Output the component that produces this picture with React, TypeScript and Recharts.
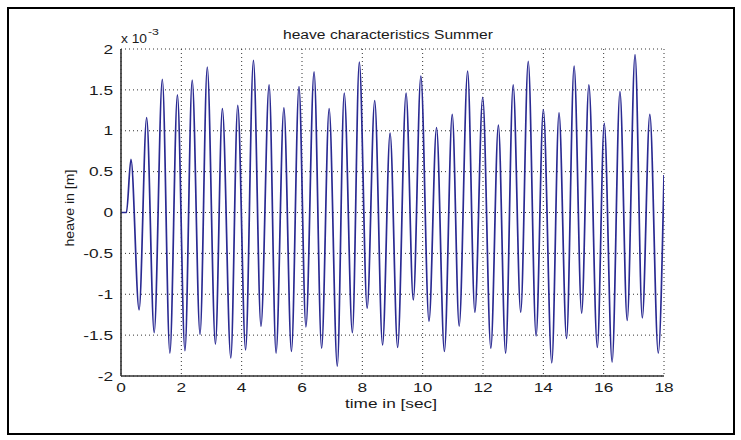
import React from 'react';
import { ComposedChart, Line, XAxis, YAxis, CartesianGrid } from 'recharts';

// time in seconds
const timeSec = [
  0, 0.18, 0.33, 0.6, 0.85, 1.1, 1.37, 1.62, 1.87, 2.12, 2.36, 2.62, 2.86, 3.13, 3.36, 3.64,
  3.87, 4.13, 4.39, 4.64, 4.91, 5.14, 5.4, 5.65, 5.9, 6.13, 6.4, 6.65, 6.9, 7.17, 7.4, 7.67,
  7.9, 8.16, 8.41, 8.67, 8.92, 9.17, 9.45, 9.69, 9.94, 10.21, 10.46, 10.72, 10.98, 11.21,
  11.49, 11.73, 11.99, 12.26, 12.51, 12.75, 13.0, 13.25, 13.5, 13.76, 14.0, 14.28, 14.52,
  14.77, 15.02, 15.27, 15.51, 15.79, 16.02, 16.28, 16.54, 16.78, 17.04, 17.28, 17.53, 17.81, 18,
];

// heave in units of 1e-3 m
const heave = [
  0, 0, 0.65, -1.19, 1.16, -1.47, 1.63, -1.72, 1.44, -1.69, 1.62, -1.49, 1.78, -1.61, 1.27, -1.78,
  1.31, -1.68, 1.86, -1.39, 1.56, -1.72, 1.28, -1.7, 1.54, -1.4, 1.72, -1.66, 1.27, -1.88, 1.46, -1.47,
  1.84, -1.17, 1.37, -1.62, 0.97, -1.65, 1.46, -1.07, 1.67, -1.33, 1.04, -1.7, 1.2, -1.39,
  1.73, -1.22, 1.41, -1.66, 1.07, -1.72, 1.56, -1.22, 1.85, -1.51, 1.26, -1.84, 1.22,
  -1.54, 1.79, -1.23, 1.56, -1.65, 1.09, -1.83, 1.48, -1.32, 1.93, -1.29, 1.2, -1.72, 0.46,
];

const xTicks = [0, 2, 4, 6, 8, 10, 12, 14, 16, 18];
const yTicks = [-2, -1.5, -1, -0.5, 0, 0.5, 1, 1.5, 2];
const yTickLabels = ['-2', '-1.5', '-1', '-0.5', '0', '0.5', '1', '1.5', '2'];

const titleText = 'heave characteristics Summer';
const xLabelText = 'time in [sec]';
const yLabelText = 'heave in [m]';
const scaleText = 'x 10';
const scaleExp = '-3';

const data = timeSec.map((t, i) => ({ t, h: heave[i] }));

const FONT = '"Liberation Sans", Arial, Helvetica, sans-serif';
const TEXT_COLOR = '#1a1a1a';

const XTick = (props: any) => {
  const { x, y, payload } = props;
  return (
    <text
      x={0}
      y={0}
      transform={`translate(${x},${y + 15.5}) scale(1.33,1)`}
      textAnchor="middle"
      fontSize={13}
      fontFamily={FONT}
      fill={TEXT_COLOR}
    >
      {String(payload.value)}
    </text>
  );
};

const YTick = (props: any) => {
  const { x, y, payload } = props;
  const idx = yTicks.indexOf(payload.value);
  const label = idx >= 0 ? yTickLabels[idx] : String(payload.value);
  return (
    <text
      x={0}
      y={0}
      transform={`translate(${x},${y + 4.7}) scale(1.33,1)`}
      textAnchor="end"
      fontSize={13}
      fontFamily={FONT}
      fill={TEXT_COLOR}
    >
      {label}
    </text>
  );
};

export default function App() {
  return (
    <div style={{ position: 'absolute', left: 0, top: 0, width: 741, height: 440, background: '#fff' }}>
      <ComposedChart
        width={741}
        height={440}
        data={data}
        margin={{ top: 49, right: 77, bottom: 0, left: 0 }}
      >
        <CartesianGrid
          xAxisId="main"
          yAxisId="main"
          stroke="#333"
          strokeDasharray="1 3"
          strokeWidth={1}
          horizontalValues={yTicks}
          verticalValues={xTicks}
        />
        <XAxis
          xAxisId="main"
          dataKey="t"
          type="number"
          domain={[0, 18]}
          ticks={xTicks}
          interval={0}
          height={64}
          tickSize={0}
          tickMargin={0}
          tickLine={false}
          tick={<XTick />}
          axisLine={{ stroke: '#333', strokeWidth: 1.6 }}
          allowDataOverflow
        />
        <XAxis
          xAxisId="top"
          orientation="top"
          type="number"
          domain={[0, 18]}
          height={0}
          tick={false}
          tickLine={false}
          axisLine={{ stroke: '#333', strokeWidth: 1.6 }}
        />
        <YAxis
          yAxisId="main"
          type="number"
          domain={[-2, 2]}
          ticks={yTicks}
          interval={0}
          width={121}
          tickSize={0}
          tickMargin={8}
          tickLine={false}
          tick={<YTick />}
          axisLine={{ stroke: '#333', strokeWidth: 1.6 }}
          allowDataOverflow
        />
        <YAxis
          yAxisId="right"
          orientation="right"
          type="number"
          domain={[-2, 2]}
          width={0}
          tick={false}
          tickLine={false}
          axisLine={{ stroke: '#333', strokeWidth: 1.6 }}
        />
        <Line
          xAxisId="main"
          yAxisId="main"
          type="monotone"
          dataKey="h"
          stroke="#2a2a92"
          strokeWidth={1.7}
          dot={false}
          activeDot={false}
          isAnimationActive={false}
        />
      </ComposedChart>
      <svg
        width={741}
        height={440}
        style={{ position: 'absolute', left: 0, top: 0, pointerEvents: 'none' }}
      >
        <rect x={8} y={8} width={726} height={426} fill="none" stroke="#000" strokeWidth={2} />
        <text
          x={388}
          y={39}
          textAnchor="middle"
          fontSize={12.5}
          fontFamily={FONT}
          fill={TEXT_COLOR}
          textLength={210}
          lengthAdjust="spacingAndGlyphs"
        >
          {titleText}
        </text>
        <text
          x={391}
          y={408}
          textAnchor="middle"
          fontSize={13}
          fontFamily={FONT}
          fill={TEXT_COLOR}
          textLength={92}
          lengthAdjust="spacingAndGlyphs"
        >
          {xLabelText}
        </text>
        <text
          x={0}
          y={0}
          transform="translate(74,208) rotate(-90)"
          textAnchor="middle"
          fontSize={12.5}
          fontFamily={FONT}
          fill={TEXT_COLOR}
          textLength={77}
          lengthAdjust="spacingAndGlyphs"
        >
          {yLabelText}
        </text>
        <text
          x={121}
          y={43}
          fontSize={12}
          fontFamily={FONT}
          fill={TEXT_COLOR}
          textLength={26}
          lengthAdjust="spacingAndGlyphs"
        >
          {scaleText}
        </text>
        <text
          x={148}
          y={35}
          fontSize={9}
          fontFamily={FONT}
          fill={TEXT_COLOR}
          textLength={11}
          lengthAdjust="spacingAndGlyphs"
        >
          {scaleExp}
        </text>
      </svg>
    </div>
  );
}
